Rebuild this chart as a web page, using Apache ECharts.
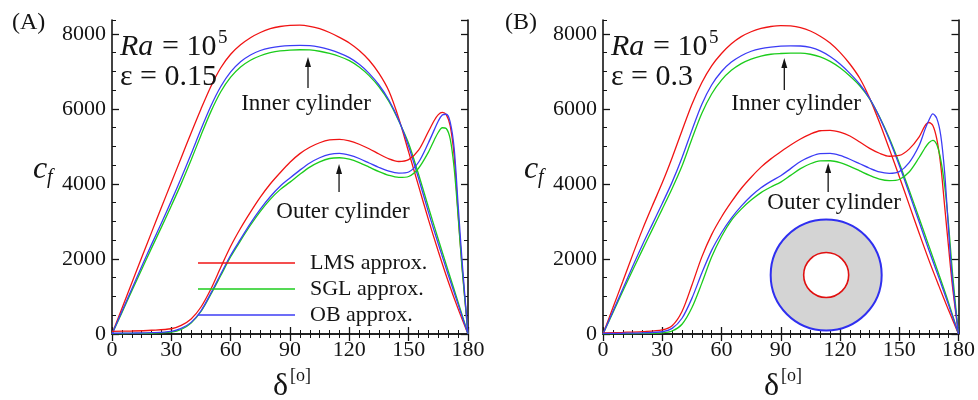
<!DOCTYPE html>
<html>
<head>
<meta charset="utf-8">
<script src="https://cdn.jsdelivr.net/npm/echarts@6/dist/echarts.min.js"></script>
<style>
  html, body { margin: 0; padding: 0; background: #ffffff; }
  #chart { width: 978px; height: 400px; }
</style>
</head>
<body>
<div id="chart"></div>
<script>
// Angular positions (degrees) at which the skin-friction profiles are sampled
const innerAngles = [0,5,10,15,20,25,30,35,40,45,50,55,60,65,70,75,80,85,90,95,100,105,110,115,120,125,130,135,140,145,150,155,160,165,170,175,180];
const outerAngles = [0,10,20,30,35,40,45,50,55,60,65,70,75,80,85,90,95,100,105,110,115,120,125,130,135,140,145,150,155,160,163,165,167,169,171,173,175,177,180];

// Panel A: Ra = 1e5, eps = 0.15 — inner cylinder
const innerLmsA = [0,680,1360,2040,2710,3380,4040,4700,5360,6000,6600,7100,7460,7710,7900,8040,8140,8200,8230,8235,8205,8140,8040,7910,7760,7560,7300,6950,6480,5750,4850,3950,3050,2200,1400,670,0];
const innerSglA = [0,570,1150,1720,2290,2850,3420,4010,4640,5300,5930,6460,6850,7120,7300,7420,7500,7550,7572,7580,7575,7540,7480,7400,7290,7120,6890,6590,6200,5680,5080,4260,3380,2520,1680,850,0];
const innerObA  = [0,600,1200,1800,2390,2960,3550,4160,4800,5460,6080,6600,6990,7260,7440,7560,7630,7670,7690,7695,7690,7650,7580,7490,7370,7190,6950,6640,6240,5700,5000,4150,3250,2400,1580,790,0];
// Panel A — outer cylinder
const outerLmsA = [70,80,100,140,230,400,720,1200,1780,2340,2820,3250,3650,4000,4300,4580,4810,4980,5100,5175,5190,5150,5060,4940,4800,4670,4600,4650,4900,5400,5700,5850,5910,5850,5550,4750,3200,1800,0];
const outerSglA = [10,15,20,50,120,290,600,1060,1560,2060,2490,2900,3270,3590,3850,4050,4260,4450,4590,4680,4700,4660,4570,4450,4330,4230,4175,4200,4420,4850,5180,5380,5500,5480,5200,4420,3150,1750,0];
const outerObA  = [20,25,35,70,150,310,620,1090,1600,2100,2530,2950,3330,3660,3940,4160,4370,4560,4700,4790,4815,4770,4680,4560,4440,4340,4290,4320,4580,5100,5450,5680,5840,5860,5650,4950,3450,1950,0];

// Panel B: Ra = 1e5, eps = 0.3 — inner cylinder
const innerLmsB = [0,700,1400,2110,2790,3420,4030,4700,5420,6120,6700,7150,7480,7740,7930,8060,8150,8200,8225,8215,8170,8080,7940,7760,7510,7200,6820,6290,5640,4930,4200,3450,2700,1970,1290,630,0];
const innerSglB = [0,570,1140,1700,2250,2790,3330,3880,4480,5200,5880,6400,6770,7030,7210,7330,7410,7460,7480,7490,7490,7460,7390,7270,7100,6880,6620,6270,5790,5220,4560,3840,3100,2350,1600,830,0];
const innerObB  = [0,600,1200,1800,2380,2930,3480,4050,4700,5430,6120,6640,7000,7250,7420,7540,7610,7650,7675,7685,7680,7640,7550,7400,7200,6950,6660,6280,5780,5180,4500,3760,3000,2240,1510,770,0];
// Panel B — outer cylinder
const outerLmsB = [30,45,65,110,220,600,1300,2050,2650,3120,3520,3880,4180,4450,4670,4860,5040,5200,5330,5420,5430,5380,5280,5120,4950,4820,4740,4760,4930,5250,5550,5640,5560,5200,4500,3400,2300,1250,0];
const outerSglB = [5,10,15,30,80,260,700,1350,2050,2600,3030,3330,3570,3770,3920,4050,4230,4410,4540,4615,4620,4570,4470,4350,4230,4130,4090,4120,4320,4700,4960,5100,5165,5050,4650,3950,2900,1600,0];
const outerObB  = [15,20,30,60,150,420,950,1620,2230,2700,3090,3410,3680,3900,4070,4220,4410,4600,4730,4810,4815,4760,4660,4540,4420,4320,4285,4330,4570,5020,5450,5700,5870,5750,5300,4300,2750,1400,0];

// Axis ticks
const xTicks = { min: 0, max: 180, major: 30, minorSplit: 6 };
const yTicks = { min: 0, max: 8373, major: 2000, minor: 500 };

const SERIF = '"Liberation Serif", "Times New Roman", serif';
const INK = '#141414';
const COLORS = { 'LMS approx.': '#f01414', 'SGL approx.': '#1ccc1c', 'OB approx.': '#3c3cf5' };

const panels = [
  { grid: { left: 112, top: 20, width: 356, height: 314 },
    curves: [
      ['LMS approx.', innerAngles, innerLmsA], ['SGL approx.', innerAngles, innerSglA], ['OB approx.', innerAngles, innerObA],
      ['LMS approx.', outerAngles, outerLmsA], ['SGL approx.', outerAngles, outerSglA], ['OB approx.', outerAngles, outerObA]
    ] },
  { grid: { left: 603, top: 20, width: 357, height: 314 },
    curves: [
      ['LMS approx.', innerAngles, innerLmsB], ['SGL approx.', innerAngles, innerSglB], ['OB approx.', innerAngles, innerObB],
      ['LMS approx.', outerAngles, outerLmsB], ['SGL approx.', outerAngles, outerSglB], ['OB approx.', outerAngles, outerObB]
    ] }
];

const axisLineStyle = { show: true, lineStyle: { color: INK, width: 1.6 } };
const plain = v => String(v);

function xAxesFor(g) {
  const base = {
    type: 'value', gridIndex: g, min: xTicks.min, max: xTicks.max, interval: xTicks.major,
    splitLine: { show: false }, axisLine: axisLineStyle,
    axisTick: { inside: true, length: 7, lineStyle: { color: INK, width: 1.3 } },
    minorTick: { show: true, splitNumber: xTicks.minorSplit, length: 4, lineStyle: { color: INK, width: 1 } }
  };
  return [
    Object.assign({}, base, { position: 'bottom',
      axisLabel: { show: true, margin: 5, color: INK, fontFamily: SERIF, fontSize: 22, formatter: plain } }),
    Object.assign({}, base, { position: 'top', axisLabel: { show: false } })
  ];
}

function yAxesFor(g) {
  const base = { type: 'value', gridIndex: g, min: yTicks.min, max: yTicks.max, splitLine: { show: false } };
  const major = (pos, labels) => Object.assign({}, base, {
    position: pos, interval: yTicks.major, axisLine: axisLineStyle,
    axisTick: { inside: true, length: 7, lineStyle: { color: INK, width: 1.3 } },
    axisLabel: labels
      ? { show: true, margin: 6, color: INK, fontFamily: SERIF, fontSize: 22, showMaxLabel: false, formatter: plain }
      : { show: false }
  });
  const minor = pos => Object.assign({}, base, {
    position: pos, interval: yTicks.minor, axisLine: { show: false },
    axisTick: { inside: true, length: 4, lineStyle: { color: INK, width: 1 } },
    axisLabel: { show: false }
  });
  return [major('left', true), minor('left'), major('right', false), minor('right')];
}

const option = {
  animation: false,
  backgroundColor: '#ffffff',
  grid: panels.map(p => Object.assign({ containLabel: false }, p.grid)),
  xAxis: [].concat(xAxesFor(0), xAxesFor(1)),
  yAxis: [].concat(yAxesFor(0), yAxesFor(1)),
  legend: {
    orient: 'vertical', left: 193, top: 245, itemGap: 0,
    data: ['LMS approx.', 'SGL approx.', 'OB approx.'],
    icon: 'rect', itemWidth: 97, itemHeight: 1.4,
    textStyle: { fontFamily: SERIF, fontSize: 22, color: INK, lineHeight: 26, padding: [0, 0, 0, 10] },
    selectedMode: false
  },
  series: []
};

panels.forEach((p, g) => {
  p.curves.forEach(([name, angles, vals]) => {
    option.series.push({
      type: 'line', name: name,
      xAxisIndex: 2 * g, yAxisIndex: 4 * g,
      data: angles.map((a, i) => [a, vals[i]]),
      showSymbol: false, symbol: 'none',
      smooth: 0.3,
      color: COLORS[name],
      lineStyle: { color: COLORS[name], width: 1.3 },
      z: 3
    });
  });
});

const chart = echarts.init(document.getElementById('chart'), null, { renderer: 'canvas' });
chart.setOption(option);

// Annotations placed in data coordinates of each panel
const toPx = (g, x, y) => chart.convertToPixel({ gridIndex: g }, [x, y]);

function text(x, y, str, font, align, vAlign) {
  return { type: 'text', x: x, y: y, z: 10, silent: true,
    style: { text: str, font: font, fill: INK,
      align: align || 'left', verticalAlign: vAlign || 'middle',
      textAlign: align || 'left', textVerticalAlign: vAlign || 'middle' } };
}
function arrow(g, x, yTail, yHead) {
  const t = toPx(g, x, yTail), h = toPx(g, x, yHead);
  return [
    { type: 'line', z: 10, silent: true, shape: { x1: t[0], y1: t[1], x2: h[0], y2: h[1] + 6 },
      style: { stroke: INK, lineWidth: 1.3 } },
    { type: 'polygon', z: 10, silent: true,
      shape: { points: [[h[0], h[1]], [h[0] - 3, h[1] + 10], [h[0] + 3, h[1] + 10]] },
      style: { fill: INK } }
  ];
}

const notes = [
  { g: 0, eps: 'ε = 0.15', label: '(A)', inner: [98.1, 6134], innerArrow: [99.1, 6560, 7387],
    outer: [116.8, 3254], outerArrow: [114.8, 3787, 4533] },
  { g: 1, eps: 'ε = 0.3', label: '(B)', inner: [97.8, 6134], innerArrow: [91.8, 6507, 7360],
    outer: [117, 3494], outerArrow: [114, 3787, 4560] }
];

const graphics = [];
notes.forEach(n => {
  const left = panels[n.g].grid.left;
  const dx = left - 112;
  graphics.push(text(12 + dx + (n.g ? 2 : 0), 23, n.label, '24px ' + SERIF));
  // panel parameters
  graphics.push(text(left + 8, 47, 'Ra', 'italic 30px ' + SERIF));
  graphics.push(text(left + 50, 47, '= 10', '30px ' + SERIF));
  graphics.push(text(left + 106, 38, '5', '19px ' + SERIF));
  graphics.push(text(left + 8, 77, n.eps, '30px ' + SERIF));
  // axis titles
  graphics.push(text(left - 79, 170, 'c', 'italic 32px ' + SERIF));
  graphics.push(text(left - 65, 178, 'f', 'italic 20px ' + SERIF));
  graphics.push(text(left + 161, 387, 'δ', '32px ' + SERIF));
  graphics.push(text(left + 178, 376, '[o]', '18px ' + SERIF));
  // cylinder annotations
  const pi = toPx(n.g, n.inner[0], n.inner[1]);
  graphics.push(text(pi[0], pi[1], 'Inner cylinder', '23px ' + SERIF, 'center'));
  const po = toPx(n.g, n.outer[0], n.outer[1]);
  graphics.push(text(po[0], po[1], 'Outer cylinder', '23px ' + SERIF, 'center'));
  graphics.push.apply(graphics, arrow(n.g, n.innerArrow[0], n.innerArrow[1], n.innerArrow[2]));
  graphics.push.apply(graphics, arrow(n.g, n.outerArrow[0], n.outerArrow[1], n.outerArrow[2]));
});

// annulus sketch in panel B
const c = toPx(1, 113, 1574);
graphics.push({ type: 'circle', z: 8, silent: true, shape: { cx: c[0], cy: c[1], r: 55.5 },
  style: { fill: '#d4d4d4', stroke: '#2f2ff0', lineWidth: 2 } });
graphics.push({ type: 'circle', z: 9, silent: true, shape: { cx: c[0], cy: c[1], r: 22.5 },
  style: { fill: '#ffffff', stroke: '#e01010', lineWidth: 1.6 } });

chart.setOption({ graphic: { elements: graphics } });
</script>
</body>
</html>
